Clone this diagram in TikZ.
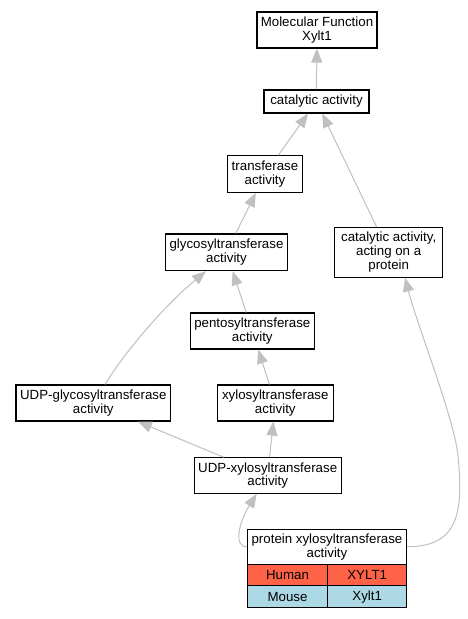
\documentclass[tikz,border=0pt]{standalone}
\usepackage{fontspec}
\setmainfont{Liberation Sans}
\usetikzlibrary{arrows.meta}
\definecolor{EdgeGray}{RGB}{192,192,192}
\definecolor{HumanRed}{RGB}{255,99,71}
\definecolor{MouseBlue}{RGB}{173,216,230}
\tikzset{
  term/.style={draw=black,line width=1.1pt,fill=white,align=center,font=\fontsize{13.3}{13.8}\selectfont,inner sep=0pt},
  cell/.style={term,minimum height=21.7pt},
  humancell/.style={cell,fill=HumanRed},
  mousecell/.style={cell,fill=MouseBlue},
  isa/.style={-{Triangle[length=14pt,width=11pt]},line width=1pt,draw=EdgeGray}
}
\begin{document}
\begin{tikzpicture}[x=1pt,y=-1pt]
  \useasboundingbox[fill=white] (0,0) rectangle (467,619);
  \node[term,minimum width=120pt,minimum height=36pt] (mf) at (317,30) {Molecular Function\\Xylt1};
  \node[term,minimum width=105pt,minimum height=23pt] (cat) at (316.5,101.5) {catalytic activity};
  \node[term,minimum width=74.5pt,minimum height=36.5pt] (trans) at (265,174) {transferase\\activity};
  \node[term,minimum width=122.7pt,minimum height=36.7pt] (glyco) at (226.5,252.3) {glycosyltransferase\\activity};
  \node[term,minimum width=108pt,minimum height=49.5pt] (catprot) at (388.7,252.3) {catalytic activity,\\acting on a\\protein};
  \node[term,minimum width=124pt,minimum height=36pt] (pento) at (252.3,331) {pentosyltransferase\\activity};
  \node[term,minimum width=154.7pt,minimum height=36pt] (udpgly) at (93.3,403) {UDP-glycosyltransferase\\activity};
  \node[term,minimum width=116pt,minimum height=36pt] (xylo) at (275.3,403) {xylosyltransferase\\activity};
  \node[term,minimum width=146.7pt,minimum height=35.5pt] (udpxyl) at (267.7,475.5) {UDP-xylosyltransferase\\activity};
  \node[term,minimum width=159.4pt,minimum height=35.3pt] (pxt) at (327,546.7) {protein xylosyltransferase\\activity};
  \node[humancell,minimum width=80.4pt] (pxtHuman) at (287.5,575) {Human};
  \node[humancell,minimum width=79pt] (pxtHumanGene) at (367.2,575) {XYLT1};
  \node[mousecell,minimum width=80.4pt] (pxtMouse) at (287.5,596.7) {Mouse};
  \node[mousecell,minimum width=79pt] (pxtMouseGene) at (367.2,596.7) {Xylt1};
  \draw[isa] (cat) -- (mf);
  \draw[isa] (trans) -- (cat);
  \draw[isa] (catprot) -- (cat);
  \draw[isa] (glyco) -- (trans);
  \draw[isa] (pento) -- (glyco);
  \draw[isa] (xylo) -- (pento);
  \draw[isa] ([xshift=11.7pt]udpgly.north) .. controls +(20,-33) and +(-41,34) .. ([xshift=-20.5pt]glyco.south);
  \draw[isa] (udpxyl) -- (udpgly);
  \draw[isa] (udpxyl) -- (xylo);
  \draw[isa] (pxt.west) .. controls +(-14,0) and +(-17,27) .. ([xshift=-11pt]udpxyl.south);
  \draw[isa] (pxt.east) .. controls +(53,0) and +(5,55) .. (458,455) .. controls +(-5,-40) and +(12,47) .. ([xshift=16.3pt]catprot.south);
\end{tikzpicture}
\end{document}
